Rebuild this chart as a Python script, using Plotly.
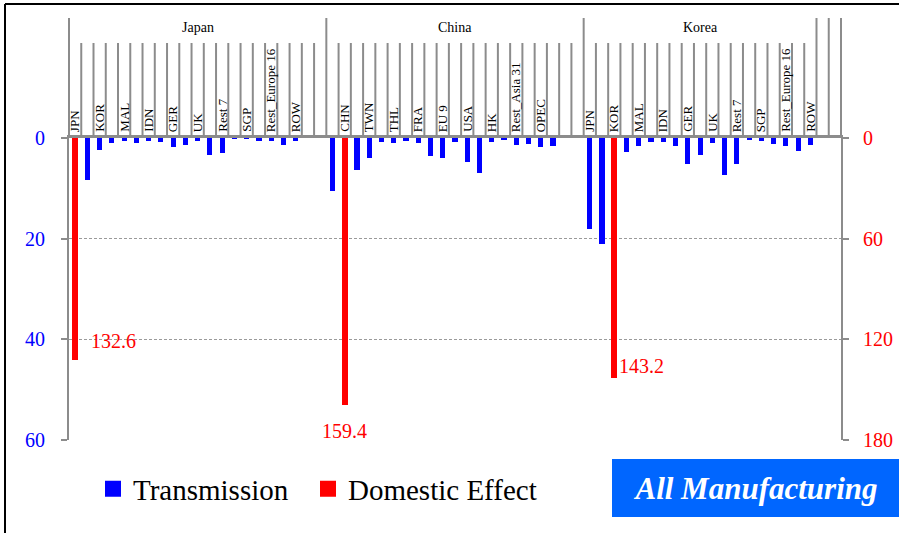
import plotly.graph_objects as go

# ---------------- data ----------------
groups = ["Japan", "China", "Korea"]
countries = ["JPN", "CHN", "KOR", "TWN", "MAL", "THL", "IDN", "FRA", "GER", "EU 9",
             "UK", "USA", "Rest 7", "HK", "SGP", "Rest_Asia 31", "Rest_Europe 16",
             "OPEC", "ROW"]
home_country = ["JPN", "CHN", "KOR"]
transmission_japan = [0.0, 8.3, 2.45, 1.06, 0.53, 0.93, 0.66, 0.73, 1.72, 1.39,
                      0.6, 3.44, 3.05, 0.05, 0.02, 0.5, 0.66, 1.32, 0.6]
transmission_china = [10.6, 0.0, 6.42, 3.97, 0.79, 1.06, 0.53, 1.06, 3.64, 3.9,
                      0.73, 4.7, 7.0, 0.86, 0.4, 1.46, 1.19, 1.72, 1.66]
transmission_korea = [18.1, 21.1, 0.0, 2.85, 1.52, 0.86, 0.73, 1.52, 5.1, 3.31,
                      0.93, 7.42, 5.1, 0.33, 0.53, 1.13, 1.52, 2.52, 1.46]
domestic_effect = [132.6, 159.4, 143.2]
left_ticks = [0, 20, 40, 60]
right_ticks = [0, 60, 120, 180]
# category-axis blocks: (outer label, number of category slots)
blocks = [("Japan", 21), ("China", 21), ("Korea", 19), ("", 1), ("", 1)]
transmission = {"Japan": transmission_japan, "China": transmission_china,
                "Korea": transmission_korea}

# ---------------- build category structure ----------------
slot_labels = []
block_starts = []
for name, n in blocks:
    block_starts.append(len(slot_labels))
    if name in groups:
        labs = countries + [""] * (n - len(countries))
        slot_labels.extend(labs[:n])
    else:
        slot_labels.extend([""] * n)
N = len(slot_labels)

bx, by = [], []
rx, ry = [], []
for gi, g in enumerate(groups):
    start = block_starts[[b[0] for b in blocks].index(g)]
    for ci, v in enumerate(transmission[g]):
        bx.append(start + ci)
        by.append(v)
    rx.append(start + countries.index(home_country[gi]))
    ry.append(domestic_effect[gi])

# ---------------- pixel helpers for decorations ----------------
W, H = 899, 533
L, R, T, B = 69, 841, 138, 440


def py(p):
    return (B - p) / (B - T)


def px(p):
    return (p - L) / (R - L)


SERIF = "Liberation Serif, Times New Roman, serif"
GRAY = "#8c8c8c"

fig = go.Figure()
fig.add_trace(go.Bar(x=bx, y=by, width=0.42, marker=dict(color="#0000FF", line=dict(width=0)),
                     name="Transmission", showlegend=False, yaxis="y"))
fig.add_trace(go.Bar(x=rx, y=ry, width=0.46, marker=dict(color="#FF0000", line=dict(width=0)),
                     name="Domestic Effect", showlegend=False, yaxis="y2"))
# legend entries
fig.add_trace(go.Scatter(x=[None], y=[None], mode="markers", name="Transmission",
                         legend="legend",
                         marker=dict(symbol="square", size=16, color="#0000FF")))
fig.add_trace(go.Scatter(x=[None], y=[None], mode="markers", name="Domestic Effect",
                         legend="legend2",
                         marker=dict(symbol="square", size=16, color="#FF0000")))

shapes = []
boundaries = set(block_starts)
boundaries.add(N)
for i in range(N + 1):
    top = 18 if i in boundaries else 43
    shapes.append(dict(type="line", xref="paper", yref="paper", x0=i / N, x1=i / N,
                       y0=py(T), y1=py(top), line=dict(color=GRAY, width=2)))
# outer frame (top and left edges visible)
shapes.append(dict(type="line", xref="paper", yref="paper", x0=px(5), x1=px(W),
                   y0=py(4), y1=py(4), line=dict(color="black", width=2)))
shapes.append(dict(type="line", xref="paper", yref="paper", x0=px(5), x1=px(5),
                   y0=py(4), y1=py(H), line=dict(color="black", width=2)))

annotations = []
for i, lab in enumerate(slot_labels):
    if lab and i % 2 == 0:
        annotations.append(dict(x=i, y=py(134), xref="x", yref="paper", text=lab,
                                textangle=-90, showarrow=False, yanchor="bottom",
                                xanchor="center", font=dict(family=SERIF, size=13, color="black")))
for (name, n), s in zip(blocks, block_starts):
    if name:
        annotations.append(dict(x=s + n / 2 - 0.5, y=py(27), xref="x", yref="paper", text=name,
                                showarrow=False, yanchor="middle", xanchor="center",
                                font=dict(family=SERIF, size=14, color="black")))
# domestic-effect value labels
label_shift = [(14, 19, "left"), (0, -26, "center"), (3, 12, "left")]
for (x, v), (xs, ys, xa) in zip(zip(rx, ry), label_shift):
    annotations.append(dict(x=x, y=v, xref="x", yref="y2", text=f"{v:.1f}", showarrow=False,
                            xanchor=xa, yanchor="middle", xshift=xs, yshift=ys,
                            font=dict(family=SERIF, size=20, color="#FF0000")))
# title box
annotations.append(dict(x=px(612), y=py(459), xref="paper", yref="paper",
                        text="<b><i>All Manufacturing</i></b>", showarrow=False,
                        xanchor="left", yanchor="top", width=287, height=58,
                        borderpad=0, borderwidth=0, bgcolor="#0066FF", align="center",
                        font=dict(family=SERIF, size=31, color="white")))

legend_style = dict(orientation="h", y=py(489), xanchor="left", yanchor="middle",
                    font=dict(family=SERIF, size=29, color="black"),
                    bgcolor="rgba(0,0,0,0)", itemwidth=30)

fig.update_layout(
    width=W, height=H,
    margin=dict(l=L, r=W - R, t=T, b=H - B, pad=0, autoexpand=False),
    paper_bgcolor="white", plot_bgcolor="white",
    barmode="overlay",
    bargap=0,
    xaxis=dict(range=[-0.5, N - 0.5], showticklabels=False, showgrid=False, zeroline=False,
               side="top", showline=True, linecolor=GRAY, linewidth=2.5, ticks="", fixedrange=True),
    yaxis=dict(range=[60, 0], tickvals=left_ticks, showgrid=True, gridcolor="#9a9a9a",
               gridwidth=1, griddash="3px,2px", zeroline=False, showline=True, linecolor=GRAY,
               linewidth=2, ticks="outside", ticklen=6, tickcolor=GRAY, tickwidth=2,
               ticklabelstandoff=12, automargin=False,
               tickfont=dict(family=SERIF, size=20, color="#0000FF")),
    yaxis2=dict(range=[180, 0], tickvals=right_ticks, overlaying="y", side="right",
                showgrid=False, zeroline=False, showline=True, linecolor=GRAY, linewidth=2,
                ticks="outside", ticklen=6, tickcolor=GRAY, tickwidth=2,
                ticklabelstandoff=10, automargin=False,
                tickfont=dict(family=SERIF, size=20, color="#FF0000")),
    legend=dict(x=px(93), **legend_style),
    legend2=dict(x=px(308), **legend_style),
    shapes=shapes,
    annotations=annotations,
)

fig.write_html("out.html", config={"displayModeBar": False},
               post_script="document.body.style.margin='0px';document.body.style.overflow='hidden';")
